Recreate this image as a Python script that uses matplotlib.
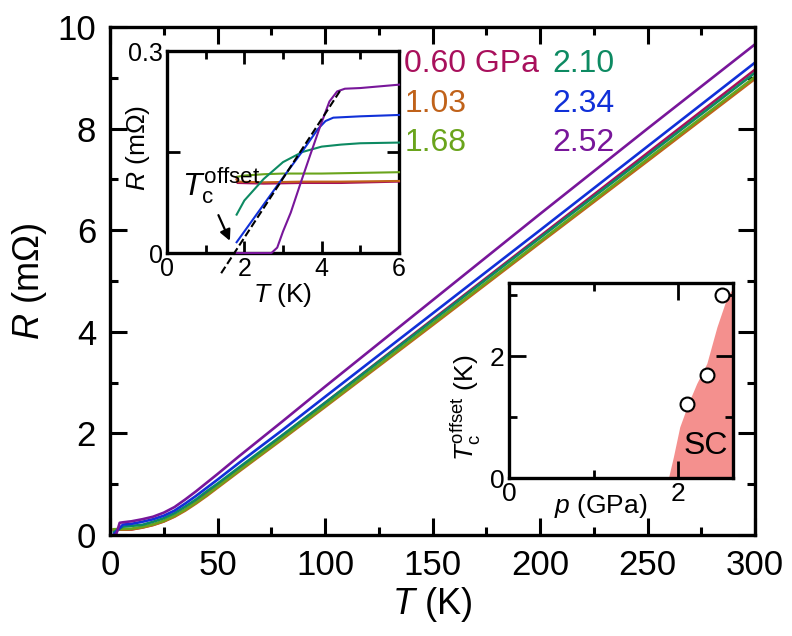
import numpy as np
import matplotlib
matplotlib.use("Agg")
import matplotlib.pyplot as plt
from matplotlib.ticker import MultipleLocator

plt.rcParams['font.family'] = ['Liberation Sans', 'DejaVu Sans']
plt.rcParams['mathtext.fontset'] = 'custom'
plt.rcParams['mathtext.rm'] = 'Liberation Sans'
plt.rcParams['mathtext.it'] = 'Liberation Sans:italic'
plt.rcParams['axes.linewidth'] = 2.4

# pressures (GPa) and colours
pressures = ['0.60', '1.03', '1.68', '2.10', '2.34', '2.52']
colors = ['#a8105c', '#c0621a', '#6aa41c', '#0d8a62', '#1030d8', '#78169a']

# main panel R(T), T in K, R in mOhm
T_main = [1.8, 6, 10, 15, 20, 25, 30, 35, 40, 45, 50, 60, 80, 100, 150, 200, 250, 300]
R_060 = [0.105, 0.105, 0.11, 0.15, 0.20, 0.27, 0.37, 0.50, 0.65, 0.81, 0.97, 1.30, 1.95, 2.60, 4.24, 5.88, 7.52, 9.16]
R_103 = [0.105, 0.105, 0.11, 0.145, 0.195, 0.265, 0.36, 0.48, 0.62, 0.77, 0.93, 1.25, 1.88, 2.52, 4.13, 5.75, 7.36, 8.98]
R_168 = [0.113, 0.12, 0.125, 0.16, 0.21, 0.28, 0.38, 0.50, 0.64, 0.79, 0.95, 1.27, 1.90, 2.54, 4.16, 5.78, 7.40, 9.02]
R_210 = [0.057, 0.165, 0.18, 0.20, 0.26, 0.33, 0.43, 0.56, 0.70, 0.86, 1.01, 1.33, 1.96, 2.60, 4.22, 5.85, 7.47, 9.10]
R_234 = [0.016, 0.205, 0.22, 0.26, 0.31, 0.38, 0.48, 0.62, 0.77, 0.93, 1.09, 1.42, 2.06, 2.72, 4.36, 6.00, 7.65, 9.30]
T_252 = [1.8, 2.8, 4.5, 6, 10, 15, 20, 25, 30, 35, 40, 45, 50, 60, 80, 100, 150, 200, 250, 300]
R_252 = [0.0, 0.0, 0.24, 0.25, 0.27, 0.31, 0.36, 0.44, 0.55, 0.70, 0.86, 1.03, 1.20, 1.55, 2.23, 2.92, 4.62, 6.32, 8.00, 9.66]

# inset: low-temperature detail
Ti_060 = [1.8, 1.82, 2.5, 3.5, 4.5, 6]
Ri_060 = [0.113, 0.104, 0.103, 0.104, 0.104, 0.106]
Ti_103 = [1.8, 1.82, 2.5, 3.5, 4.5, 6]
Ri_103 = [0.109, 0.106, 0.105, 0.106, 0.106, 0.107]
Ti_168 = [1.8, 2.0, 2.5, 3.0, 4.0, 5.0, 6.0]
Ri_168 = [0.113, 0.115, 0.117, 0.118, 0.118, 0.119, 0.120]
Ti_210 = [1.8, 2.0, 2.5, 3.0, 3.5, 4.0, 4.5, 5.0, 6.0]
Ri_210 = [0.057, 0.078, 0.110, 0.135, 0.150, 0.158, 0.161, 0.163, 0.164]
Ti_234 = [1.8, 2.5, 3.0, 3.5, 3.9, 4.1, 4.3, 5.0, 6.0]
Ri_234 = [0.016, 0.072, 0.112, 0.151, 0.184, 0.196, 0.201, 0.203, 0.205]
Ti_252 = [1.8, 2.7, 2.85, 3.0, 3.2, 3.45, 3.7, 3.96, 4.2, 4.4, 4.6, 5.0, 6.0]
Ri_252 = [0.0, 0.0, 0.008, 0.032, 0.06, 0.103, 0.145, 0.188, 0.225, 0.240, 0.244, 0.245, 0.250]
T_dash = [1.4, 4.5]
R_dash = [-0.03, 0.243]

# phase diagram
p_pts = [2.10, 2.34, 2.52]
Tc_pts = [1.21, 1.69, 3.0]
sc_T = [0, 0.35, 0.84, 1.22, 1.55, 1.88, 2.48, 2.97, 3.12]
sc_p = [1.886, 1.945, 2.02, 2.12, 2.22, 2.34, 2.46, 2.58, 2.65]

main_T = [T_main] * 5 + [T_252]
main_R = [R_060, R_103, R_168, R_210, R_234, R_252]
ins_T = [Ti_060, Ti_103, Ti_168, Ti_210, Ti_234, Ti_252]
ins_R = [Ri_060, Ri_103, Ri_168, Ri_210, Ri_234, Ri_252]

fig = plt.figure(figsize=(7.92, 6.36), dpi=100)

ax = fig.add_axes([0.1389, 0.1588, 0.8144, 0.7987])
for t, r, c in zip(main_T, main_R, colors):
    ax.plot(t, r, color=c, lw=1.9)
ax.set_xlim(0, 300)
ax.set_ylim(0, 10)
ax.xaxis.set_major_locator(MultipleLocator(50))
ax.xaxis.set_minor_locator(MultipleLocator(25))
ax.yaxis.set_major_locator(MultipleLocator(2))
ax.yaxis.set_minor_locator(MultipleLocator(1))
ax.tick_params(which='both', direction='in', top=True, right=True, width=2.2, labelsize=25, pad=10)
ax.tick_params(which='major', length=12)
ax.tick_params(which='minor', length=6)
ax.set_xlabel(r'$T$ (K)', fontsize=26, labelpad=2)
ax.set_ylabel(r'$R$ (m$\Omega$)', fontsize=26, labelpad=6)

# legend as coloured text
rows_y = [0.927, 0.848, 0.771]
for i, (p, c) in enumerate(zip(pressures, colors)):
    col, row = divmod(i, 3)
    label = p + ' GPa' if i == 0 else p
    xpos = 0.456 if col == 0 else 0.686
    ax.text(xpos, rows_y[row], label, color=c, fontsize=23, transform=ax.transAxes, va='center', ha='left')

# inset 1
ax1 = fig.add_axes([0.2109, 0.6022, 0.2929, 0.3176])
for t, r, c in zip(ins_T, ins_R, colors):
    ax1.plot(t, r, color=c, lw=1.5, zorder=3, clip_on=False)
ax1.plot(T_dash, R_dash, 'k--', lw=1.5, clip_on=False, zorder=4)
ax1.set_xlim(0, 6)
ax1.set_ylim(0, 0.3)
ax1.set_xticks([0, 2, 4, 6])
ax1.xaxis.set_minor_locator(MultipleLocator(1))
ax1.set_yticks([0, 0.15, 0.3])
ax1.set_yticklabels(['0', '', '0.3'])
ax1.tick_params(which='both', direction='in', top=True, right=True, width=2, labelsize=18, pad=3)
ax1.tick_params(which='major', length=9)
ax1.tick_params(which='minor', length=6)
ax1.set_xlabel(r'$T$ (K)', fontsize=19, labelpad=0)
ax1.set_ylabel(r'$R$ (m$\Omega$)', fontsize=19)
ax1.yaxis.set_label_coords(-0.065, 0.52)
ax1.annotate('', xy=(1.655, 0.0144), xytext=(1.30, 0.060),
             arrowprops=dict(arrowstyle='-|>', color='k', lw=1.6, mutation_scale=16))
ax1.text(0.38, 0.085, r'$T_{\mathrm{c}}^{\mathrm{offset}}$', fontsize=23, ha='left', va='baseline')

# inset 2
ax2 = fig.add_axes([0.6427, 0.2484, 0.2828, 0.3066])
ax2.fill_betweenx(sc_T, sc_p, 2.65, color='#f4908e', lw=0, zorder=0)
ax2.plot(p_pts, Tc_pts, 'o', mfc='white', mec='k', mew=1.5, ms=10, zorder=3)
ax2.set_xlim(0, 2.65)
ax2.set_ylim(0, 3.2)
ax2.xaxis.set_major_locator(MultipleLocator(2))
ax2.xaxis.set_minor_locator(MultipleLocator(1))
ax2.yaxis.set_major_locator(MultipleLocator(2))
ax2.yaxis.set_minor_locator(MultipleLocator(1))
ax2.tick_params(which='both', direction='in', top=True, right=True, width=2, labelsize=19, pad=3)
ax2.tick_params(which='major', length=12)
ax2.tick_params(which='minor', length=6)
ax2.text(2.33, 0.28, 'SC', fontsize=23, ha='center', va='bottom')
ax2.set_xlabel(r'$p$ (GPa)', fontsize=19)
ax2.xaxis.set_label_coords(0.41, -0.07)
ax2.set_ylabel(r'$T_{\mathrm{c}}^{\mathrm{offset}}$ (K)', fontsize=19)
ax2.yaxis.set_label_coords(-0.115, 0.36)

fig.savefig('out.png', dpi=100)
